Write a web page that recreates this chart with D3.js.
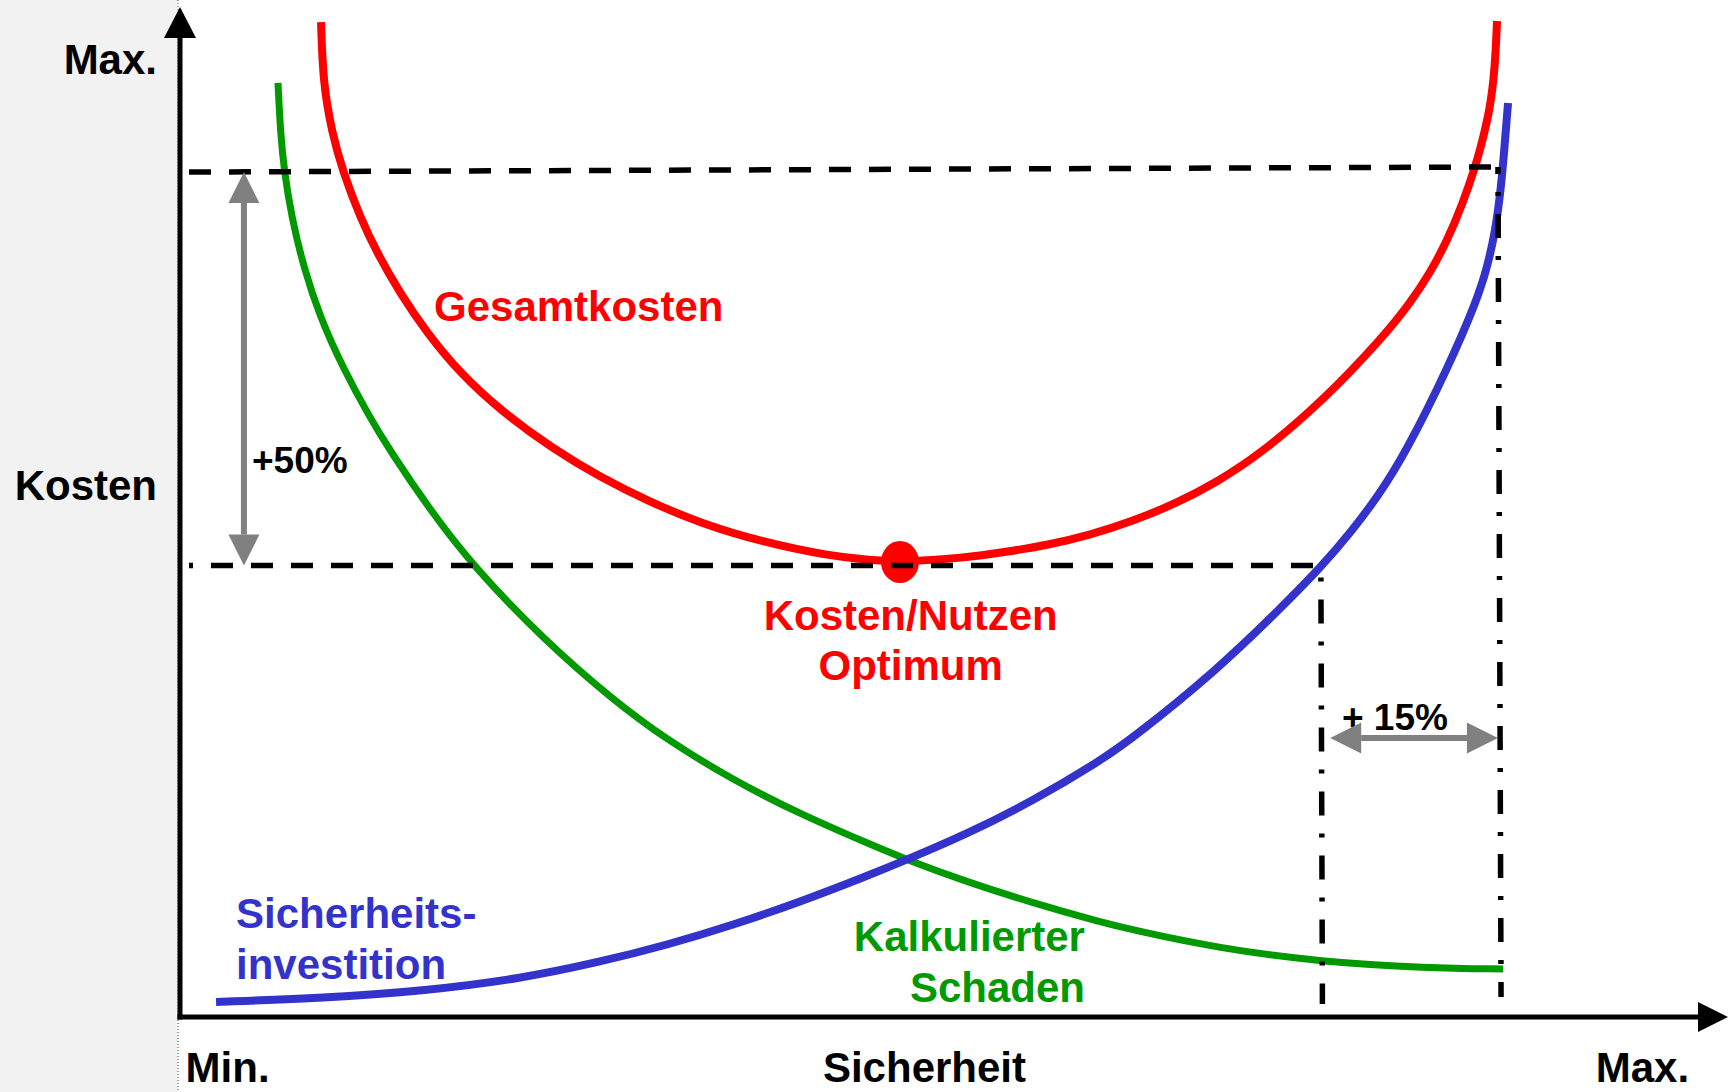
<!DOCTYPE html>
<html>
<head>
<meta charset="utf-8">
<script src="https://cdn.jsdelivr.net/npm/d3@7"></script>
<style>
  body { margin: 0; background: #fff; }
  svg { display: block; }
</style>
</head>
<body>
<div id="chart"></div>
<script>
/* Kosten / Sicherheit - Optimum chart */

const width = 1736,
    height = 1092;

// curves: [Sicherheit, Kosten], both 0..100
const gesamtkosten = [[9.11, 98.51], [9.24, 92.48], [9.82, 87.52], [10.53, 83.66], [11.63, 79.21], [12.73, 75.64],
    [14.21, 71.68], [15.96, 67.72], [18.09, 63.76], [20.67, 60.10], [24.10, 56.24], [27.13, 53.47], [30.36, 50.99],
    [33.59, 48.91], [37.60, 47.03], [41.99, 45.64], [44.57, 45.25], [46.51, 45.05], [50.65, 45.45], [53.36, 46.04],
    [56.07, 46.73], [58.79, 47.72], [61.56, 49.11], [64.28, 50.79], [66.99, 52.97], [69.70, 55.64], [73.77, 60.89],
    [77.84, 67.52], [79.46, 70.69], [80.75, 73.66], [81.85, 76.83], [82.88, 80.59], [83.66, 84.16], [83.98, 85.84],
    [84.63, 89.80], [84.95, 94.06], [85.08, 98.61]];

const schaden = [[6.33, 92.48], [6.49, 87.52], [6.74, 83.66], [7.21, 79.21], [7.98, 74.26], [9.04, 69.31],
    [10.50, 64.36], [12.24, 59.41], [13.54, 56.14], [16.15, 50.20], [18.93, 44.65], [23.45, 37.43], [27.97, 31.39],
    [31.46, 27.43], [35.72, 23.47], [40.05, 20.10], [44.38, 17.23], [46.83, 15.64], [50.84, 13.37], [55.10, 11.29],
    [59.43, 9.41], [61.56, 8.61], [66.99, 6.83], [73.77, 5.45], [80.56, 4.85], [85.47, 4.75]];

const investition = [[2.33, 1.49], [9.37, 1.88], [15.63, 2.57], [21.90, 3.76], [27.13, 5.45], [31.46, 7.13],
    [35.72, 9.11], [40.05, 11.39], [44.38, 13.96], [46.83, 15.50], [50.84, 18.12], [55.10, 21.39], [59.43, 25.35],
    [61.56, 27.62], [66.99, 34.36], [71.06, 40.40], [73.77, 44.65], [75.65, 48.02], [77.45, 51.68], [79.20, 55.94],
    [81.91, 64.26], [83.79, 70.99], [84.43, 74.16], [84.95, 77.62], [85.34, 82.08], [85.59, 86.63], [85.79, 90.50]];

const optimum = [46.51, 45.05];
const optimumLevel = 44.7;          // Kosten at the optimum
const upperLevel = [83.66, 84.16];  // +50% line, left end / right end
const sicherheitOpt = [73.7, 73.8]; // dash-dot at the optimum (top, bottom)
const sicherheitMax = [85.14, 85.34];

const xTicks = [3.04, 48.06, 94.44];
const xTickLabels = ["Min.", "Sicherheit", "Max."];
const yTicks = [94.7, 52.6];
const yTickLabels = ["Max.", "Kosten"];

const font = "'Liberation Sans', Arial, Helvetica, sans-serif";

const svg = d3.select("#chart")
    .append("svg")
    .attr("width", width)
    .attr("height", height)
    .attr("viewBox", [0, 0, width, height])
    .style("font-family", font)
    .style("font-weight", "bold");

let x = d3.scaleLinear()
    .domain([0, 100])
    .range([180, 1728]);

let y = d3.scaleLinear()
    .domain([0, 100])
    .range([1017, 7]);

// grey strip on the left
svg.append("rect")
    .attr("x", 0).attr("y", 0)
    .attr("width", x(0) - 3).attr("height", height)
    .attr("fill", "#f2f2f2");

svg.append("line")
    .attr("x1", x(0) - 2).attr("x2", x(0) - 2)
    .attr("y1", 0).attr("y2", height)
    .attr("stroke", "#999")
    .attr("stroke-width", 2)
    .attr("stroke-dasharray", "1 2");

// curves (basis spline smooths out reading noise)
let line = d3.line()
    .x(d => x(d[0]))
    .y(d => y(d[1]))
    .curve(d3.curveBasis);

svg.append("path").datum(schaden)
    .attr("d", line).attr("fill", "none")
    .attr("stroke", "#009900").attr("stroke-width", 7);

svg.append("path").datum(investition)
    .attr("d", line).attr("fill", "none")
    .attr("stroke", "#3333cc").attr("stroke-width", 8);

svg.append("path").datum(gesamtkosten)
    .attr("d", line).attr("fill", "none")
    .attr("stroke", "#ff0000").attr("stroke-width", 8);

svg.append("ellipse")
    .attr("cx", x(optimum[0])).attr("cy", y(optimum[1]))
    .attr("rx", 19).attr("ry", 21)
    .attr("fill", "#ff0000");

// dashed reference lines
function refLine(x1, y1, x2, y2, dash, offset) {
    svg.append("line")
        .attr("x1", x(x1)).attr("y1", y(y1))
        .attr("x2", x(x2)).attr("y2", y(y2))
        .attr("stroke", "#000")
        .attr("stroke-width", 5.5)
        .attr("stroke-dasharray", dash)
        .attr("stroke-dashoffset", offset);
}

refLine(0.58, upperLevel[0], 85.27, upperLevel[1], "22 18", 0);
refLine(0.58, optimumLevel, 73.77, optimumLevel, "22 18", 18);
refLine(sicherheitOpt[0], optimumLevel, sicherheitOpt[1], 1.29, "24 18 4 18", 30);
refLine(sicherheitMax[0], upperLevel[1], sicherheitMax[1], 1.98, "24 18 4 18", 17);

// labels
function label(txt, lx, ly, color, anchor, size) {
    svg.append("text")
        .attr("x", x(lx)).attr("y", y(ly))
        .attr("text-anchor", anchor)
        .attr("font-size", size)
        .attr("fill", color)
        .text(txt);
}

label("Gesamtkosten", 16.41, 68.91, "#ff0000", "start", 42);
label("Kosten/Nutzen", 47.2, 38.32, "#ff0000", "middle", 42);
label("Optimum", 47.2, 33.37, "#ff0000", "middle", 42);
label("Sicherheits-", 3.62, 8.81, "#3333cc", "start", 42);
label("investition", 3.62, 3.76, "#3333cc", "start", 42);
label("Kalkulierter", 58.46, 6.53, "#009900", "end", 42);
label("Schaden", 58.46, 1.49, "#009900", "end", 42);
label("+50%", 4.65, 53.86, "#000", "start", 37);
label("+ 15%", 75.06, 28.42, "#000", "start", 37);

// arrow heads as triangles, tip at (tx, ty), pointing along angle
function head(tx, ty, angle, len, half, color) {
    let c = Math.cos(angle), s = Math.sin(angle);
    let bx = tx - c * len, by = ty - s * len;
    let p = d3.path();
    p.moveTo(tx, ty);
    p.lineTo(bx - s * half, by + c * half);
    p.lineTo(bx + s * half, by - c * half);
    p.closePath();
    svg.append("path").attr("d", p.toString()).attr("fill", color);
}

function doubleArrow(x1, y1, x2, y2) {
    let px1 = x(x1), py1 = y(y1), px2 = x(x2), py2 = y(y2);
    let a = Math.atan2(py2 - py1, px2 - px1);
    let len = 31;
    svg.append("line")
        .attr("x1", px1 + Math.cos(a) * len).attr("y1", py1 + Math.sin(a) * len)
        .attr("x2", px2 - Math.cos(a) * len).attr("y2", py2 - Math.sin(a) * len)
        .attr("stroke", "#808080").attr("stroke-width", 6);
    head(px2, py2, a, len, 15.5, "#808080");
    head(px1, py1, a + Math.PI, len, 15.5, "#808080");
}

doubleArrow(4.13, upperLevel[0], 4.13, optimumLevel);
doubleArrow(74.3, 27.62, sicherheitMax[0], 27.62);

// axes
svg.append("line")
    .attr("x1", x(0)).attr("x2", x(0))
    .attr("y1", y(0) + 2.5).attr("y2", y(100) + 28)
    .attr("stroke", "#000").attr("stroke-width", 5);
svg.append("line")
    .attr("x1", x(0) - 2.5).attr("x2", x(100) - 28)
    .attr("y1", y(0)).attr("y2", y(0))
    .attr("stroke", "#000").attr("stroke-width", 5);
head(x(0), y(100), -Math.PI / 2, 31, 16, "#000");
head(x(100), y(0), 0, 30, 15, "#000");

svg.append("g")
    .attr("transform", `translate(0,${y(0)})`)
    .call(d3.axisBottom(x)
        .tickValues(xTicks)
        .tickFormat((d, i) => xTickLabels[i])
        .tickSize(0)
        .tickPadding(35))
    .call(g => g.select(".domain").remove())
    .attr("font-size", 42)
    .attr("font-family", font)
    .attr("font-weight", "bold")
    .selectAll("text").attr("fill", "#000");

svg.append("g")
    .attr("transform", `translate(${x(0)},0)`)
    .call(d3.axisLeft(y)
        .tickValues(yTicks)
        .tickFormat((d, i) => yTickLabels[i])
        .tickSize(0)
        .tickPadding(23))
    .call(g => g.select(".domain").remove())
    .attr("font-size", 42)
    .attr("font-family", font)
    .attr("font-weight", "bold")
    .selectAll("text").attr("fill", "#000");
</script>
</body>
</html>
